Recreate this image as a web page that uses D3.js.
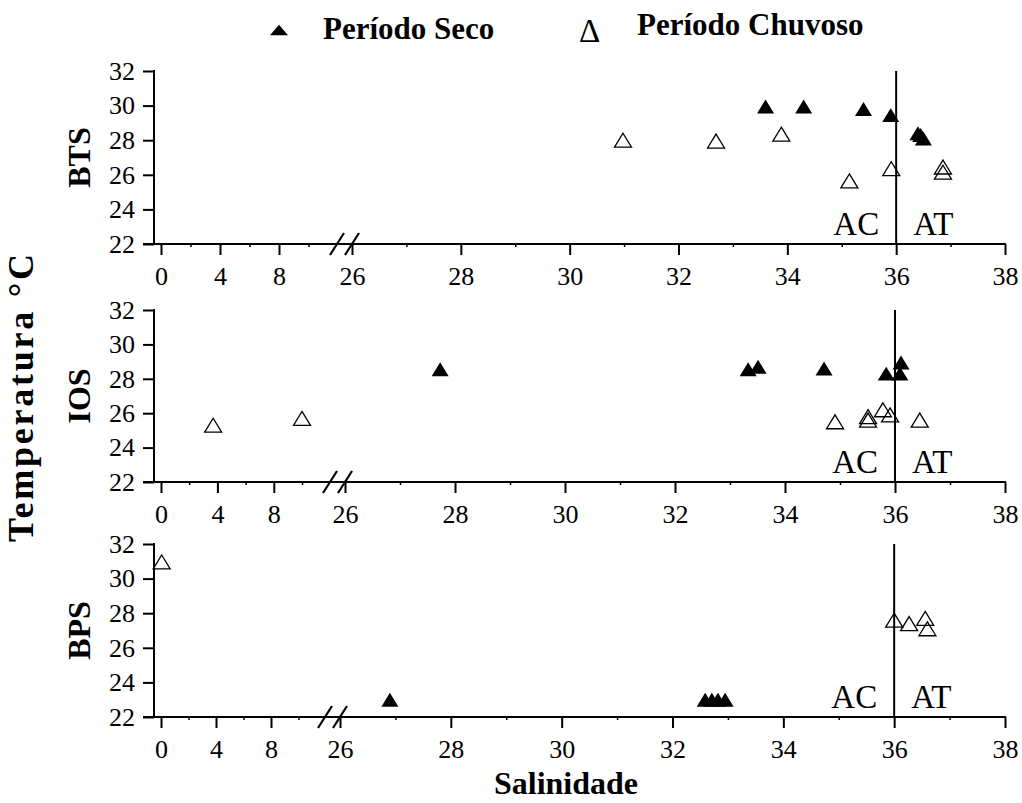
<!DOCTYPE html>
<html><head><meta charset="utf-8">
<script src="https://cdn.jsdelivr.net/npm/d3@7"></script>
<style>
body{margin:0;background:#fff}
text{font-family:"Liberation Serif","Times New Roman",serif;fill:#000}
</style>
</head><body>
<svg id="c" width="1022" height="803"></svg>
<script>
// ---------- data ----------
const panelNames = ["BTS", "IOS", "BPS"];
const tempTicks = [22, 24, 26, 28, 30, 32];
const salTicksLow = [0, 4, 8];
const salTicksHigh = [26, 28, 30, 32, 34, 36, 38];
const salMinorLow = [2, 6, 10];
const salMinorHigh = [27, 29, 31, 33, 35, 37];
const legendLabels = ["Período Seco", "Período Chuvoso"];

const btsSecoSal  = [33.6, 34.3, 35.4, 35.9, 36.4, 36.45, 36.5];
const btsSecoTemp = [29.95, 29.95, 29.8, 29.45, 28.4, 28.3, 28.1];
const btsChuvSal  = [30.98, 32.69, 33.89, 35.14, 35.91, 36.86, 36.86];
const btsChuvTemp = [28.0, 27.95, 28.35, 25.65, 26.35, 26.45, 26.15];

const iosSecoSal  = [27.73, 33.33, 33.51, 34.71, 35.84, 36.11, 36.09];
const iosSecoTemp = [28.55, 28.55, 28.7, 28.6, 28.3, 28.95, 28.3];
const iosChuvSal  = [3.7, 10.0, 34.91, 35.51, 35.51, 35.78, 35.91, 36.45];
const iosChuvTemp = [25.3, 25.7, 25.5, 25.8, 25.6, 26.2, 25.9, 25.6];

const bpsSecoSal  = [26.9, 32.59, 32.71, 32.82, 32.95];
const bpsSecoTemp = [23.0, 23.0, 23.0, 23.0, 23.0];
const bpsChuvSal  = [0.05, 36.0, 36.27, 36.56, 36.6];
const bpsChuvTemp = [30.96, 27.6, 27.4, 27.7, 27.1];

const panelSeco = [[btsSecoSal, btsSecoTemp], [iosSecoSal, iosSecoTemp], [bpsSecoSal, bpsSecoTemp]];
const panelChuv = [[btsChuvSal, btsChuvTemp], [iosChuvSal, iosChuvTemp], [bpsChuvSal, bpsChuvTemp]];

// ---------- layout ----------
const layout = [
  {top: 71,  bottom: 244, k: 14.75, x26: 352},
  {top: 310, bottom: 482, k: 14.1,  x26: 345},
  {top: 544, bottom: 717, k: 13.75, x26: 340}
];
const xLeft = 154, x0 = 161, x38 = 1005;

const svg = d3.select("#c");

// triangle symbol centered on its bounding box
function triType(ratio) {
  return {
    draw(ctx, size) {
      const w = size, h = size * ratio;
      ctx.moveTo(0, -h / 2);
      ctx.lineTo(w / 2, h / 2);
      ctx.lineTo(-w / 2, h / 2);
      ctx.closePath();
    }
  };
}
const markerTri = d3.symbol().type(triType(0.82)).size(17);

panelNames.forEach((name, i) => {
  const L = layout[i];
  const g = svg.append("g");
  const y = d3.scaleLinear().domain([22, 32]).range([L.bottom, L.top]);
  const xLo = d3.scaleLinear().domain([0, 10]).range([x0, x0 + 10 * L.k]);
  const xHi = d3.scaleLinear().domain([26, 38]).range([L.x26, x38]);
  const xs = v => (v < 20 ? xLo(v) : xHi(v));

  // y axis
  const ya = g.append("g").attr("transform", `translate(${xLeft},0)`)
    .call(d3.axisLeft(y).tickValues(tempTicks).tickSize(11).tickPadding(8).tickSizeOuter(0));
  ya.attr("font-family", null);
  ya.select(".domain").remove();
  ya.selectAll(".tick line").attr("stroke", "#000").attr("stroke-width", 2);
  ya.selectAll(".tick text").style("font-size", "26px").style("font-family", "'Liberation Serif', serif");
  g.append("line").attr("x1", xLeft).attr("x2", xLeft).attr("y1", y(32) - 1).attr("y2", y(22) + 1)
    .attr("stroke", "#000").attr("stroke-width", 2);

  // x axes
  const styleX = sel => {
    sel.attr("font-family", null);
    sel.select(".domain").remove();
    sel.selectAll(".tick line").attr("stroke", "#000").attr("stroke-width", 2);
    sel.selectAll(".tick text").attr("y", 41).attr("dy", null)
      .style("font-size", "26px").style("font-family", "'Liberation Serif', serif");
  };
  g.append("g").attr("transform", `translate(0,${L.bottom})`)
    .call(d3.axisBottom(xLo).tickValues(salTicksLow).tickSize(11).tickSizeOuter(0)).call(styleX);
  g.append("g").attr("transform", `translate(0,${L.bottom})`)
    .call(d3.axisBottom(xHi).tickValues(salTicksHigh).tickSize(11).tickSizeOuter(0)).call(styleX);
  const minorStyle = sel => { sel.select(".domain").remove(); sel.selectAll(".tick line").attr("stroke", "#000").attr("stroke-width", 1.5); };
  g.append("g").attr("transform", `translate(0,${L.bottom})`)
    .call(d3.axisBottom(xLo).tickValues(salMinorLow).tickSize(3).tickFormat("")).call(minorStyle);
  g.append("g").attr("transform", `translate(0,${L.bottom})`)
    .call(d3.axisBottom(xHi).tickValues(salMinorHigh).tickSize(3).tickFormat("")).call(minorStyle);
  g.append("line").attr("x1", xLeft - 11).attr("x2", x38 + 1).attr("y1", L.bottom).attr("y2", L.bottom)
    .attr("stroke", "#000").attr("stroke-width", 2);

  // break marks
  [L.x26 - 15, L.x26].forEach(cx => {
    g.append("line").attr("x1", cx - 7).attr("y1", L.bottom + 11).attr("x2", cx + 7).attr("y2", L.bottom - 11)
      .attr("stroke", "#000").attr("stroke-width", 2.2);
  });

  // vertical line at 36 and labels
  g.append("line").attr("x1", xs(36)).attr("x2", xs(36)).attr("y1", y(32)).attr("y2", L.bottom)
    .attr("stroke", "#000").attr("stroke-width", 2);
  g.append("text").attr("x", xs(36) - 17).attr("y", L.bottom - 9).attr("text-anchor", "end")
    .style("font-size", "33px").text("AC");
  g.append("text").attr("x", xs(36) + 17).attr("y", L.bottom - 9)
    .style("font-size", "33px").text("AT");

  // panel label
  g.append("text").attr("transform", `translate(90,${(L.top + L.bottom) / 2}) rotate(-90)`)
    .attr("text-anchor", "middle").style("font-size", "32px").style("font-weight", "bold").text(name);

  // points
  const seco = d3.zip(panelSeco[i][0], panelSeco[i][1]);
  const chuv = d3.zip(panelChuv[i][0], panelChuv[i][1]);
  g.selectAll("path.chuv").data(chuv).join("path").attr("class", "chuv")
    .attr("d", markerTri).attr("transform", d => `translate(${xs(d[0])},${y(d[1])})`)
    .attr("fill", "none").attr("stroke", "#000").attr("stroke-width", 1.3);
  g.selectAll("path.seco").data(seco).join("path").attr("class", "seco")
    .attr("d", markerTri).attr("transform", d => `translate(${xs(d[0])},${y(d[1])})`)
    .attr("fill", "#000");
});

// axis titles
svg.append("text").attr("transform", "translate(33,398) rotate(-90)").attr("text-anchor", "middle")
  .attr("textLength", 288).attr("lengthAdjust", "spacing")
  .style("font-size", "36px").style("font-weight", "bold").text("Temperatura °C");
svg.append("text").attr("x", 566).attr("y", 794).attr("text-anchor", "middle")
  .style("font-size", "32px").style("font-weight", "bold").text("Salinidade");

// legend
svg.append("path").attr("d", d3.symbol().type(triType(0.58)).size(18)())
  .attr("transform", "translate(279,30)").attr("fill", "#000");
svg.append("text").attr("x", 323).attr("y", 39).style("font-size", "31px").style("font-weight", "bold").text(legendLabels[0]);
svg.append("text").attr("x", 579).attr("y", 42).style("font-size", "33px").text("Δ");
svg.append("text").attr("x", 637).attr("y", 35).style("font-size", "31px").style("font-weight", "bold").text(legendLabels[1]);
</script>
</body></html>
